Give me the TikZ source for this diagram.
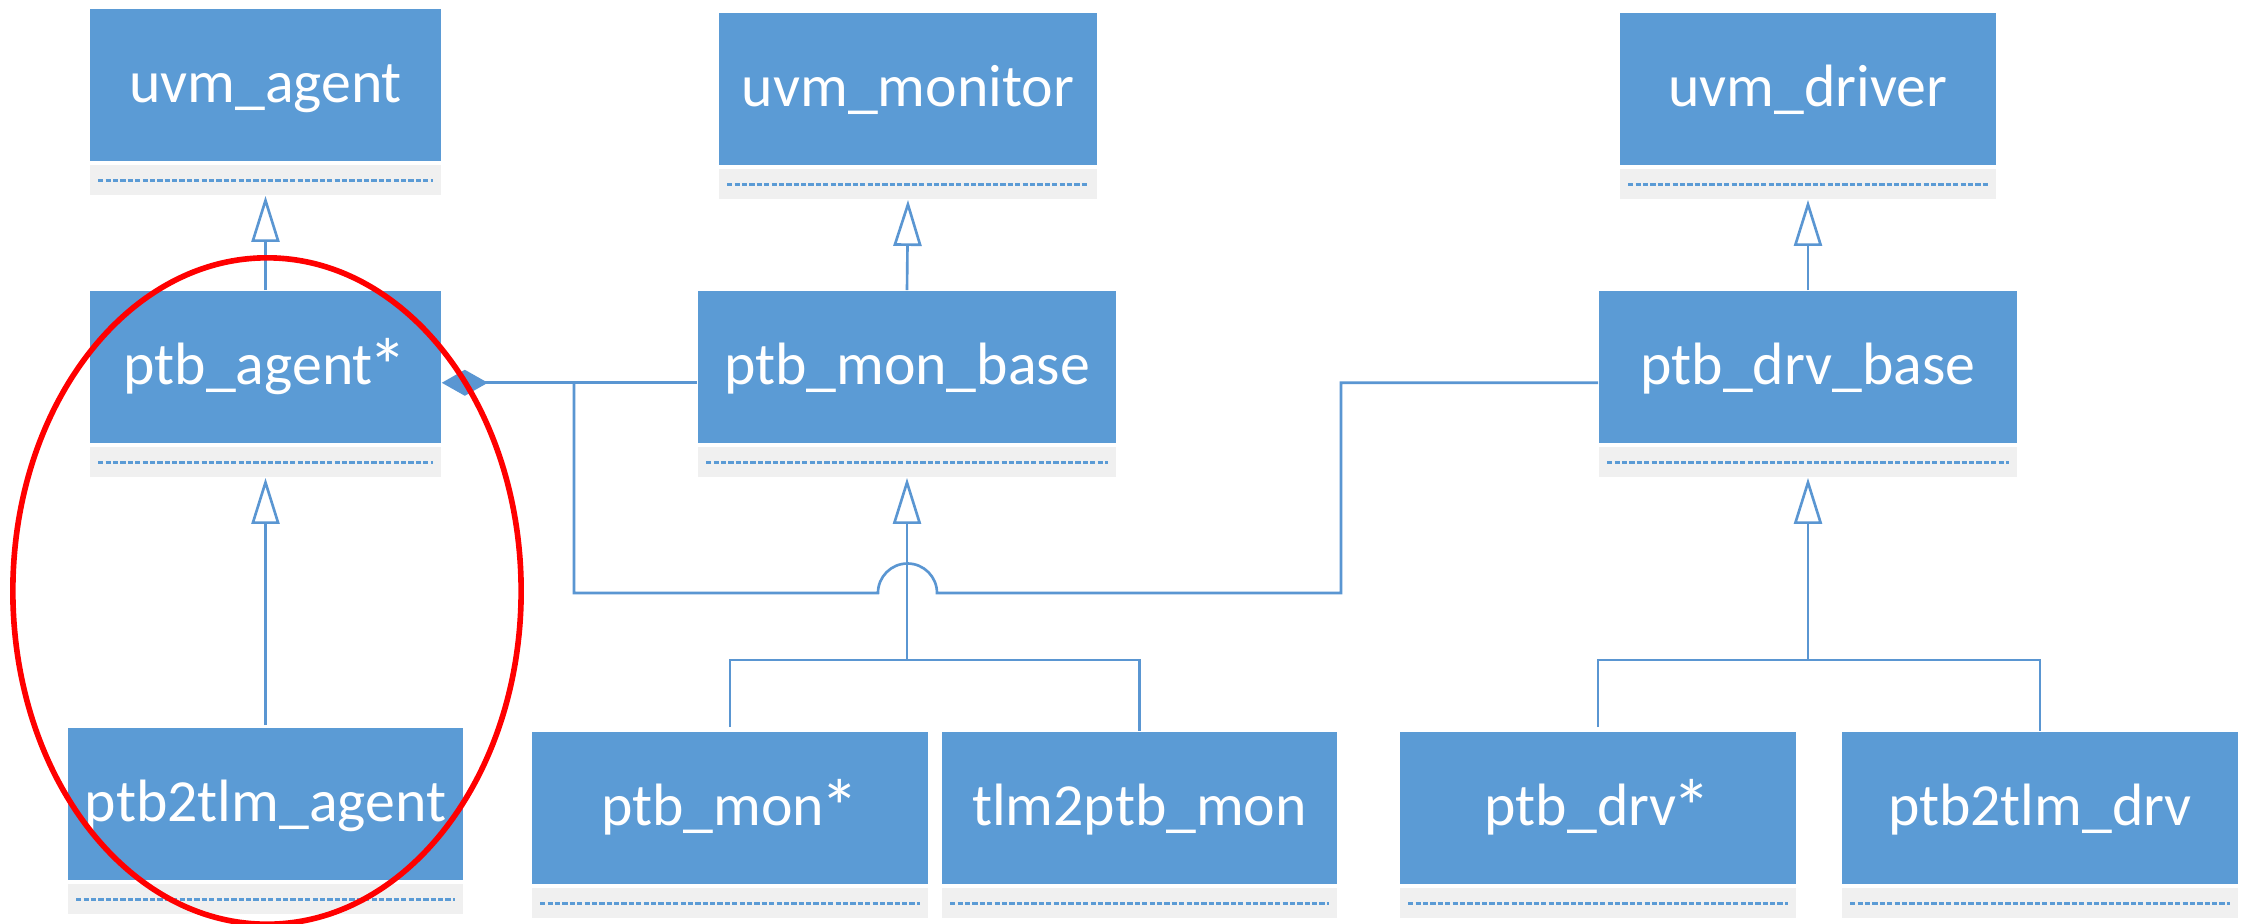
\documentclass[tikz,border=0pt]{standalone}
\usepackage{fontspec}
\setmainfont{Carlito}
\usetikzlibrary{arrows.meta}
\definecolor{boxblue}{HTML}{5B9BD5}
\definecolor{linkblue}{HTML}{5A96D2}
\definecolor{opsgrey}{HTML}{F0F0F0}
% a slightly enlarged asterisk for the starred class names
\newcommand\bigast{\kern-0.07em\raisebox{-0.15em}{\scalebox{1.3}{*}}}
\begin{document}
\begin{tikzpicture}[x=0.01cm, y=-0.01cm,
  cls/.style={fill=boxblue, text=white, font=\fontsize{17}{20}\selectfont,
    minimum width=#1, minimum height=1.52cm, inner sep=0pt,
    text height=0.5cm, text depth=0.14cm, anchor=north},
  ops/.style={fill=opsgrey, minimum width=#1, minimum height=0.30cm,
    inner sep=0pt, anchor=north},
  opsline/.style={draw=boxblue, line width=0.8pt, dash pattern=on 1.5pt off 0.6pt},
  conn/.style={draw=linkblue, line width=0.75pt},
  inh/.style={conn, -{Triangle[length=0.46cm, width=0.28cm, fill=white]}},
  comp/.style={conn, -{Diamond[length=0.46cm, width=0.26cm, fill=linkblue]}},
]
\fill[white] (0,0) rectangle (2241,923);
\useasboundingbox (0,0) rectangle (2241,923);

% class box: name, centre x, top y, width, title
\newcommand\umlbox[5]{%
  \node[cls=#4] (#1) at (#2,#3) {#5};
  \node[ops=#4] (#1-ops) at ([yshift=-0.03cm]#1.south) {};
  \draw[opsline] ([xshift=0.09cm]#1-ops.west) -- ([xshift=-0.09cm]#1-ops.east);
}

\umlbox{uagent}{265.5}{8}{3.51cm}{uvm\_agent}
\umlbox{umon}{908}{12}{3.78cm}{uvm\_monitor}
\umlbox{udrv}{1808}{12}{3.76cm}{uvm\_driver}
\umlbox{pagent}{265.5}{290}{3.51cm}{ptb\_agent\bigast}
\umlbox{pmonbase}{907}{290}{4.18cm}{ptb\_mon\_base}
\umlbox{pdrvbase}{1808}{290}{4.18cm}{ptb\_drv\_base}
\umlbox{p2tagent}{265.5}{727}{3.95cm}{ptb2tlm\_agent}
\umlbox{pmon}{730}{731}{3.96cm}{ptb\_mon\bigast}
\umlbox{t2pmon}{1139.5}{731}{3.95cm}{tlm2ptb\_mon}
\umlbox{pdrv}{1598}{731}{3.96cm}{ptb\_drv\bigast}
\umlbox{p2tdrv}{2040}{731}{3.96cm}{ptb2tlm\_drv}

% generalisations
\draw[inh] (pagent.north) -- (uagent-ops.south);
\draw[inh] (pmonbase.north) -- (umon-ops.south);
\draw[inh] (pdrvbase.north) -- (udrv-ops.south);
\draw[inh] ([yshift=0.02cm]p2tagent.north) -- (pagent-ops.south);

\coordinate (monfork) at (907,660);
\draw[conn] ([yshift=0.04cm]pmon.north) |- (monfork) -| (t2pmon.north);
\draw[inh] (monfork) -- (pmonbase-ops.south);

\coordinate (drvfork) at (1808,660);
\draw[conn] ([yshift=0.04cm]pdrv.north) |- (drvfork) -| (p2tdrv.north);
\draw[inh] (drvfork) -- (pdrvbase-ops.south);

% composition into the agent
\draw[comp] ([yshift=-0.16cm]pmonbase.west) -- ([yshift=-0.16cm]pagent.east);
\coordinate (join) at (574,382);
\draw[conn] ([yshift=-0.16cm]pdrvbase.west) -| (1341,593) -- (937,593)
  arc[start angle=0, end angle=180, radius=0.295cm] -- (574,593) -- (join);

% highlight
\draw[red, line width=1.6pt] (267,591) ellipse [x radius=2.54cm, y radius=3.33cm];
\end{tikzpicture}
\end{document}
